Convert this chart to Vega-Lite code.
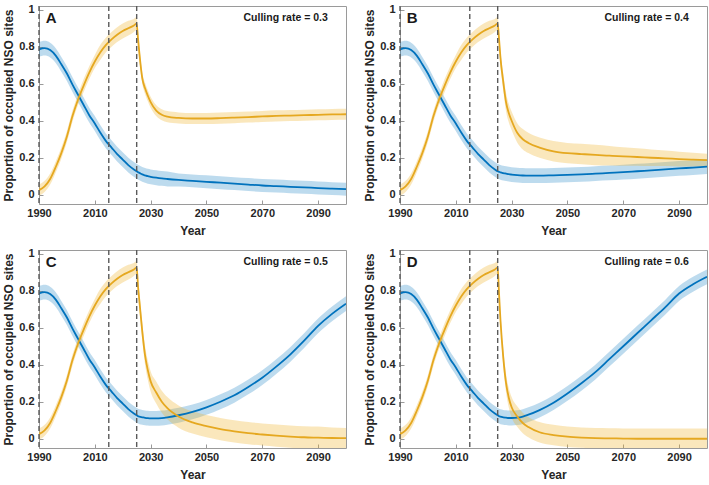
{
  "$schema": "https://vega.github.io/schema/vega-lite/v6.json",
  "background": "white",
  "padding": {"left": 2, "top": 3, "right": 2, "bottom": 0},
  "datasets": {
    "rows": [
      {"p":"A","x":1990,"b":0.785,"bl":0.745,"bh":0.825,"o":0.025,"ol":-0.005,"oh":0.055},
      {"p":"A","x":1992,"b":0.792,"bl":0.752,"bh":0.832,"o":0.045,"ol":0.015,"oh":0.075},
      {"p":"A","x":1994,"b":0.782,"bl":0.742,"bh":0.822,"o":0.085,"ol":0.055,"oh":0.115},
      {"p":"A","x":1996,"b":0.752,"bl":0.712,"bh":0.792,"o":0.15,"ol":0.12,"oh":0.18},
      {"p":"A","x":1998,"b":0.705,"bl":0.665,"bh":0.745,"o":0.225,"ol":0.195,"oh":0.255},
      {"p":"A","x":2000,"b":0.655,"bl":0.615,"bh":0.695,"o":0.315,"ol":0.285,"oh":0.345},
      {"p":"A","x":2002,"b":0.595,"bl":0.555,"bh":0.635,"o":0.425,"ol":0.395,"oh":0.455},
      {"p":"A","x":2004,"b":0.54,"bl":0.5,"bh":0.58,"o":0.515,"ol":0.485,"oh":0.545},
      {"p":"A","x":2006,"b":0.485,"bl":0.445,"bh":0.525,"o":0.59,"ol":0.555,"oh":0.625},
      {"p":"A","x":2008,"b":0.43,"bl":0.39,"bh":0.47,"o":0.66,"ol":0.625,"oh":0.695},
      {"p":"A","x":2010,"b":0.385,"bl":0.345,"bh":0.425,"o":0.72,"ol":0.685,"oh":0.755},
      {"p":"A","x":2012,"b":0.335,"bl":0.295,"bh":0.375,"o":0.77,"ol":0.73,"oh":0.81},
      {"p":"A","x":2014,"b":0.29,"bl":0.25,"bh":0.33,"o":0.81,"ol":0.77,"oh":0.85},
      {"p":"A","x":2016,"b":0.255,"bl":0.215,"bh":0.295,"o":0.84,"ol":0.8,"oh":0.88},
      {"p":"A","x":2018,"b":0.22,"bl":0.18,"bh":0.26,"o":0.865,"ol":0.825,"oh":0.905},
      {"p":"A","x":2020,"b":0.19,"bl":0.15,"bh":0.23,"o":0.885,"ol":0.845,"oh":0.925},
      {"p":"A","x":2022,"b":0.16,"bl":0.12,"bh":0.2,"o":0.9,"ol":0.86,"oh":0.94},
      {"p":"A","x":2024,"b":0.137,"bl":0.097,"bh":0.177,"o":0.915,"ol":0.88,"oh":0.95},
      {"p":"A","x":2025,"b":0.127,"bl":0.087,"bh":0.167,"o":0.925,"ol":0.89,"oh":0.96},
      {"p":"A","x":2025.5,"b":0.122,"bl":0.082,"bh":0.162,"o":0.84,"ol":0.805,"oh":0.875},
      {"p":"A","x":2026,"b":0.118,"bl":0.078,"bh":0.158,"o":0.76,"ol":0.725,"oh":0.795},
      {"p":"A","x":2027,"b":0.11,"bl":0.07,"bh":0.15,"o":0.63,"ol":0.6,"oh":0.66},
      {"p":"A","x":2028,"b":0.105,"bl":0.065,"bh":0.145,"o":0.575,"ol":0.545,"oh":0.605},
      {"p":"A","x":2029,"b":0.1,"bl":0.06,"bh":0.14,"o":0.535,"ol":0.505,"oh":0.565},
      {"p":"A","x":2030,"b":0.097,"bl":0.057,"bh":0.137,"o":0.5,"ol":0.47,"oh":0.53},
      {"p":"A","x":2032,"b":0.092,"bl":0.052,"bh":0.132,"o":0.455,"ol":0.425,"oh":0.485},
      {"p":"A","x":2034,"b":0.088,"bl":0.048,"bh":0.128,"o":0.432,"ol":0.402,"oh":0.462},
      {"p":"A","x":2036,"b":0.085,"bl":0.045,"bh":0.125,"o":0.422,"ol":0.392,"oh":0.452},
      {"p":"A","x":2040,"b":0.08,"bl":0.045,"bh":0.115,"o":0.415,"ol":0.385,"oh":0.445},
      {"p":"A","x":2045,"b":0.075,"bl":0.04,"bh":0.11,"o":0.412,"ol":0.382,"oh":0.442},
      {"p":"A","x":2050,"b":0.07,"bl":0.035,"bh":0.105,"o":0.412,"ol":0.382,"oh":0.442},
      {"p":"A","x":2055,"b":0.065,"bl":0.03,"bh":0.1,"o":0.414,"ol":0.384,"oh":0.444},
      {"p":"A","x":2060,"b":0.06,"bl":0.025,"bh":0.095,"o":0.417,"ol":0.387,"oh":0.447},
      {"p":"A","x":2065,"b":0.055,"bl":0.02,"bh":0.09,"o":0.42,"ol":0.39,"oh":0.45},
      {"p":"A","x":2070,"b":0.05,"bl":0.015,"bh":0.085,"o":0.423,"ol":0.393,"oh":0.453},
      {"p":"A","x":2075,"b":0.047,"bl":0.012,"bh":0.082,"o":0.426,"ol":0.396,"oh":0.456},
      {"p":"A","x":2080,"b":0.043,"bl":0.008,"bh":0.078,"o":0.428,"ol":0.398,"oh":0.458},
      {"p":"A","x":2085,"b":0.04,"bl":0.005,"bh":0.075,"o":0.43,"ol":0.4,"oh":0.46},
      {"p":"A","x":2090,"b":0.036,"bl":0.001,"bh":0.071,"o":0.432,"ol":0.402,"oh":0.462},
      {"p":"A","x":2095,"b":0.033,"bl":-0.002,"bh":0.068,"o":0.434,"ol":0.404,"oh":0.464},
      {"p":"A","x":2100,"b":0.03,"bl":-0.005,"bh":0.065,"o":0.435,"ol":0.405,"oh":0.465},

      {"p":"B","x":1990,"b":0.785,"bl":0.745,"bh":0.825,"o":0.025,"ol":-0.005,"oh":0.055},
      {"p":"B","x":1992,"b":0.792,"bl":0.752,"bh":0.832,"o":0.045,"ol":0.015,"oh":0.075},
      {"p":"B","x":1994,"b":0.782,"bl":0.742,"bh":0.822,"o":0.085,"ol":0.055,"oh":0.115},
      {"p":"B","x":1996,"b":0.752,"bl":0.712,"bh":0.792,"o":0.15,"ol":0.12,"oh":0.18},
      {"p":"B","x":1998,"b":0.705,"bl":0.665,"bh":0.745,"o":0.225,"ol":0.195,"oh":0.255},
      {"p":"B","x":2000,"b":0.655,"bl":0.615,"bh":0.695,"o":0.315,"ol":0.285,"oh":0.345},
      {"p":"B","x":2002,"b":0.595,"bl":0.555,"bh":0.635,"o":0.425,"ol":0.395,"oh":0.455},
      {"p":"B","x":2004,"b":0.54,"bl":0.5,"bh":0.58,"o":0.515,"ol":0.485,"oh":0.545},
      {"p":"B","x":2006,"b":0.485,"bl":0.445,"bh":0.525,"o":0.59,"ol":0.555,"oh":0.625},
      {"p":"B","x":2008,"b":0.43,"bl":0.39,"bh":0.47,"o":0.66,"ol":0.625,"oh":0.695},
      {"p":"B","x":2010,"b":0.385,"bl":0.345,"bh":0.425,"o":0.72,"ol":0.685,"oh":0.755},
      {"p":"B","x":2012,"b":0.335,"bl":0.295,"bh":0.375,"o":0.77,"ol":0.73,"oh":0.81},
      {"p":"B","x":2014,"b":0.29,"bl":0.25,"bh":0.33,"o":0.81,"ol":0.77,"oh":0.85},
      {"p":"B","x":2016,"b":0.255,"bl":0.215,"bh":0.295,"o":0.84,"ol":0.8,"oh":0.88},
      {"p":"B","x":2018,"b":0.22,"bl":0.18,"bh":0.26,"o":0.865,"ol":0.825,"oh":0.905},
      {"p":"B","x":2020,"b":0.19,"bl":0.15,"bh":0.23,"o":0.885,"ol":0.845,"oh":0.925},
      {"p":"B","x":2022,"b":0.16,"bl":0.12,"bh":0.2,"o":0.9,"ol":0.86,"oh":0.94},
      {"p":"B","x":2024,"b":0.137,"bl":0.097,"bh":0.177,"o":0.915,"ol":0.88,"oh":0.95},
      {"p":"B","x":2025,"b":0.127,"bl":0.087,"bh":0.167,"o":0.925,"ol":0.89,"oh":0.96},
      {"p":"B","x":2025.5,"b":0.124,"bl":0.084,"bh":0.164,"o":0.84,"ol":0.805,"oh":0.875},
      {"p":"B","x":2026,"b":0.121,"bl":0.081,"bh":0.161,"o":0.74,"ol":0.7,"oh":0.78},
      {"p":"B","x":2027,"b":0.117,"bl":0.077,"bh":0.157,"o":0.61,"ol":0.565,"oh":0.655},
      {"p":"B","x":2028,"b":0.114,"bl":0.074,"bh":0.154,"o":0.5,"ol":0.45,"oh":0.55},
      {"p":"B","x":2029,"b":0.111,"bl":0.071,"bh":0.151,"o":0.44,"ol":0.39,"oh":0.49},
      {"p":"B","x":2030,"b":0.109,"bl":0.069,"bh":0.149,"o":0.4,"ol":0.35,"oh":0.45},
      {"p":"B","x":2032,"b":0.106,"bl":0.066,"bh":0.146,"o":0.335,"ol":0.283,"oh":0.387},
      {"p":"B","x":2034,"b":0.104,"bl":0.064,"bh":0.144,"o":0.3,"ol":0.245,"oh":0.355},
      {"p":"B","x":2036,"b":0.103,"bl":0.063,"bh":0.143,"o":0.28,"ol":0.225,"oh":0.335},
      {"p":"B","x":2040,"b":0.103,"bl":0.063,"bh":0.143,"o":0.255,"ol":0.2,"oh":0.31},
      {"p":"B","x":2045,"b":0.105,"bl":0.065,"bh":0.145,"o":0.235,"ol":0.18,"oh":0.29},
      {"p":"B","x":2050,"b":0.107,"bl":0.067,"bh":0.147,"o":0.225,"ol":0.17,"oh":0.28},
      {"p":"B","x":2055,"b":0.11,"bl":0.07,"bh":0.15,"o":0.22,"ol":0.165,"oh":0.275},
      {"p":"B","x":2060,"b":0.114,"bl":0.074,"bh":0.154,"o":0.215,"ol":0.16,"oh":0.27},
      {"p":"B","x":2065,"b":0.118,"bl":0.078,"bh":0.158,"o":0.211,"ol":0.158,"oh":0.264},
      {"p":"B","x":2070,"b":0.122,"bl":0.082,"bh":0.162,"o":0.207,"ol":0.157,"oh":0.257},
      {"p":"B","x":2075,"b":0.127,"bl":0.087,"bh":0.167,"o":0.204,"ol":0.157,"oh":0.251},
      {"p":"B","x":2080,"b":0.132,"bl":0.092,"bh":0.172,"o":0.2,"ol":0.155,"oh":0.245},
      {"p":"B","x":2085,"b":0.137,"bl":0.097,"bh":0.177,"o":0.197,"ol":0.155,"oh":0.239},
      {"p":"B","x":2090,"b":0.142,"bl":0.102,"bh":0.182,"o":0.193,"ol":0.153,"oh":0.233},
      {"p":"B","x":2095,"b":0.147,"bl":0.107,"bh":0.187,"o":0.19,"ol":0.153,"oh":0.227},
      {"p":"B","x":2100,"b":0.152,"bl":0.112,"bh":0.192,"o":0.187,"ol":0.152,"oh":0.222},

      {"p":"C","x":1990,"b":0.785,"bl":0.745,"bh":0.825,"o":0.025,"ol":-0.005,"oh":0.055},
      {"p":"C","x":1992,"b":0.792,"bl":0.752,"bh":0.832,"o":0.045,"ol":0.015,"oh":0.075},
      {"p":"C","x":1994,"b":0.782,"bl":0.742,"bh":0.822,"o":0.085,"ol":0.055,"oh":0.115},
      {"p":"C","x":1996,"b":0.752,"bl":0.712,"bh":0.792,"o":0.15,"ol":0.12,"oh":0.18},
      {"p":"C","x":1998,"b":0.705,"bl":0.665,"bh":0.745,"o":0.225,"ol":0.195,"oh":0.255},
      {"p":"C","x":2000,"b":0.655,"bl":0.615,"bh":0.695,"o":0.315,"ol":0.285,"oh":0.345},
      {"p":"C","x":2002,"b":0.595,"bl":0.555,"bh":0.635,"o":0.425,"ol":0.395,"oh":0.455},
      {"p":"C","x":2004,"b":0.54,"bl":0.5,"bh":0.58,"o":0.515,"ol":0.485,"oh":0.545},
      {"p":"C","x":2006,"b":0.485,"bl":0.445,"bh":0.525,"o":0.59,"ol":0.555,"oh":0.625},
      {"p":"C","x":2008,"b":0.43,"bl":0.39,"bh":0.47,"o":0.66,"ol":0.625,"oh":0.695},
      {"p":"C","x":2010,"b":0.385,"bl":0.345,"bh":0.425,"o":0.72,"ol":0.685,"oh":0.755},
      {"p":"C","x":2012,"b":0.335,"bl":0.295,"bh":0.375,"o":0.77,"ol":0.73,"oh":0.81},
      {"p":"C","x":2014,"b":0.29,"bl":0.25,"bh":0.33,"o":0.81,"ol":0.77,"oh":0.85},
      {"p":"C","x":2016,"b":0.255,"bl":0.215,"bh":0.295,"o":0.84,"ol":0.8,"oh":0.88},
      {"p":"C","x":2018,"b":0.22,"bl":0.18,"bh":0.26,"o":0.865,"ol":0.825,"oh":0.905},
      {"p":"C","x":2020,"b":0.19,"bl":0.15,"bh":0.23,"o":0.885,"ol":0.845,"oh":0.925},
      {"p":"C","x":2022,"b":0.16,"bl":0.12,"bh":0.2,"o":0.9,"ol":0.86,"oh":0.94},
      {"p":"C","x":2024,"b":0.137,"bl":0.097,"bh":0.177,"o":0.915,"ol":0.88,"oh":0.95},
      {"p":"C","x":2025,"b":0.127,"bl":0.087,"bh":0.167,"o":0.925,"ol":0.89,"oh":0.96},
      {"p":"C","x":2025.5,"b":0.122,"bl":0.082,"bh":0.162,"o":0.82,"ol":0.785,"oh":0.855},
      {"p":"C","x":2026,"b":0.119,"bl":0.079,"bh":0.159,"o":0.74,"ol":0.7,"oh":0.78},
      {"p":"C","x":2027,"b":0.116,"bl":0.076,"bh":0.156,"o":0.58,"ol":0.535,"oh":0.625},
      {"p":"C","x":2028,"b":0.113,"bl":0.073,"bh":0.153,"o":0.45,"ol":0.4,"oh":0.5},
      {"p":"C","x":2029,"b":0.111,"bl":0.071,"bh":0.151,"o":0.37,"ol":0.317,"oh":0.423},
      {"p":"C","x":2030,"b":0.11,"bl":0.07,"bh":0.15,"o":0.31,"ol":0.255,"oh":0.365},
      {"p":"C","x":2032,"b":0.11,"bl":0.07,"bh":0.15,"o":0.25,"ol":0.19,"oh":0.31},
      {"p":"C","x":2034,"b":0.112,"bl":0.072,"bh":0.152,"o":0.2,"ol":0.14,"oh":0.26},
      {"p":"C","x":2036,"b":0.116,"bl":0.076,"bh":0.156,"o":0.165,"ol":0.105,"oh":0.225},
      {"p":"C","x":2040,"b":0.127,"bl":0.087,"bh":0.167,"o":0.12,"ol":0.06,"oh":0.18},
      {"p":"C","x":2045,"b":0.145,"bl":0.105,"bh":0.185,"o":0.088,"ol":0.028,"oh":0.148},
      {"p":"C","x":2050,"b":0.17,"bl":0.13,"bh":0.21,"o":0.068,"ol":0.008,"oh":0.128},
      {"p":"C","x":2055,"b":0.2,"bl":0.16,"bh":0.24,"o":0.052,"ol":-0.008,"oh":0.112},
      {"p":"C","x":2060,"b":0.235,"bl":0.195,"bh":0.275,"o":0.04,"ol":-0.02,"oh":0.1},
      {"p":"C","x":2065,"b":0.28,"bl":0.24,"bh":0.32,"o":0.03,"ol":-0.03,"oh":0.09},
      {"p":"C","x":2070,"b":0.33,"bl":0.29,"bh":0.37,"o":0.023,"ol":-0.037,"oh":0.083},
      {"p":"C","x":2075,"b":0.39,"bl":0.35,"bh":0.43,"o":0.017,"ol":-0.043,"oh":0.077},
      {"p":"C","x":2080,"b":0.455,"bl":0.415,"bh":0.495,"o":0.012,"ol":-0.048,"oh":0.072},
      {"p":"C","x":2085,"b":0.53,"bl":0.49,"bh":0.57,"o":0.008,"ol":-0.052,"oh":0.068},
      {"p":"C","x":2090,"b":0.61,"bl":0.57,"bh":0.65,"o":0.006,"ol":-0.054,"oh":0.066},
      {"p":"C","x":2095,"b":0.675,"bl":0.635,"bh":0.715,"o":0.004,"ol":-0.053,"oh":0.061},
      {"p":"C","x":2100,"b":0.73,"bl":0.69,"bh":0.77,"o":0.003,"ol":-0.052,"oh":0.058},

      {"p":"D","x":1990,"b":0.785,"bl":0.745,"bh":0.825,"o":0.025,"ol":-0.005,"oh":0.055},
      {"p":"D","x":1992,"b":0.792,"bl":0.752,"bh":0.832,"o":0.045,"ol":0.015,"oh":0.075},
      {"p":"D","x":1994,"b":0.782,"bl":0.742,"bh":0.822,"o":0.085,"ol":0.055,"oh":0.115},
      {"p":"D","x":1996,"b":0.752,"bl":0.712,"bh":0.792,"o":0.15,"ol":0.12,"oh":0.18},
      {"p":"D","x":1998,"b":0.705,"bl":0.665,"bh":0.745,"o":0.225,"ol":0.195,"oh":0.255},
      {"p":"D","x":2000,"b":0.655,"bl":0.615,"bh":0.695,"o":0.315,"ol":0.285,"oh":0.345},
      {"p":"D","x":2002,"b":0.595,"bl":0.555,"bh":0.635,"o":0.425,"ol":0.395,"oh":0.455},
      {"p":"D","x":2004,"b":0.54,"bl":0.5,"bh":0.58,"o":0.515,"ol":0.485,"oh":0.545},
      {"p":"D","x":2006,"b":0.485,"bl":0.445,"bh":0.525,"o":0.59,"ol":0.555,"oh":0.625},
      {"p":"D","x":2008,"b":0.43,"bl":0.39,"bh":0.47,"o":0.66,"ol":0.625,"oh":0.695},
      {"p":"D","x":2010,"b":0.385,"bl":0.345,"bh":0.425,"o":0.72,"ol":0.685,"oh":0.755},
      {"p":"D","x":2012,"b":0.335,"bl":0.295,"bh":0.375,"o":0.77,"ol":0.73,"oh":0.81},
      {"p":"D","x":2014,"b":0.29,"bl":0.25,"bh":0.33,"o":0.81,"ol":0.77,"oh":0.85},
      {"p":"D","x":2016,"b":0.255,"bl":0.215,"bh":0.295,"o":0.84,"ol":0.8,"oh":0.88},
      {"p":"D","x":2018,"b":0.22,"bl":0.18,"bh":0.26,"o":0.865,"ol":0.825,"oh":0.905},
      {"p":"D","x":2020,"b":0.19,"bl":0.15,"bh":0.23,"o":0.885,"ol":0.845,"oh":0.925},
      {"p":"D","x":2022,"b":0.16,"bl":0.12,"bh":0.2,"o":0.9,"ol":0.86,"oh":0.94},
      {"p":"D","x":2024,"b":0.137,"bl":0.097,"bh":0.177,"o":0.915,"ol":0.88,"oh":0.95},
      {"p":"D","x":2025,"b":0.127,"bl":0.087,"bh":0.167,"o":0.925,"ol":0.89,"oh":0.96},
      {"p":"D","x":2025.5,"b":0.122,"bl":0.082,"bh":0.162,"o":0.78,"ol":0.745,"oh":0.815},
      {"p":"D","x":2026,"b":0.119,"bl":0.079,"bh":0.159,"o":0.64,"ol":0.6,"oh":0.68},
      {"p":"D","x":2027,"b":0.116,"bl":0.076,"bh":0.156,"o":0.44,"ol":0.395,"oh":0.485},
      {"p":"D","x":2028,"b":0.114,"bl":0.074,"bh":0.154,"o":0.3,"ol":0.25,"oh":0.35},
      {"p":"D","x":2029,"b":0.112,"bl":0.072,"bh":0.152,"o":0.22,"ol":0.167,"oh":0.273},
      {"p":"D","x":2030,"b":0.112,"bl":0.072,"bh":0.152,"o":0.17,"ol":0.115,"oh":0.225},
      {"p":"D","x":2032,"b":0.114,"bl":0.074,"bh":0.154,"o":0.12,"ol":0.065,"oh":0.175},
      {"p":"D","x":2034,"b":0.12,"bl":0.08,"bh":0.16,"o":0.085,"ol":0.03,"oh":0.14},
      {"p":"D","x":2036,"b":0.13,"bl":0.09,"bh":0.17,"o":0.063,"ol":0.008,"oh":0.118},
      {"p":"D","x":2040,"b":0.155,"bl":0.115,"bh":0.195,"o":0.035,"ol":-0.02,"oh":0.09},
      {"p":"D","x":2045,"b":0.195,"bl":0.155,"bh":0.235,"o":0.02,"ol":-0.035,"oh":0.075},
      {"p":"D","x":2050,"b":0.245,"bl":0.205,"bh":0.285,"o":0.011,"ol":-0.044,"oh":0.066},
      {"p":"D","x":2055,"b":0.3,"bl":0.26,"bh":0.34,"o":0.006,"ol":-0.049,"oh":0.061},
      {"p":"D","x":2060,"b":0.36,"bl":0.32,"bh":0.4,"o":0.003,"ol":-0.052,"oh":0.058},
      {"p":"D","x":2065,"b":0.43,"bl":0.39,"bh":0.47,"o":0.002,"ol":-0.053,"oh":0.057},
      {"p":"D","x":2070,"b":0.5,"bl":0.46,"bh":0.54,"o":0.001,"ol":-0.054,"oh":0.056},
      {"p":"D","x":2075,"b":0.57,"bl":0.53,"bh":0.61,"o":0,"ol":-0.055,"oh":0.055},
      {"p":"D","x":2080,"b":0.64,"bl":0.6,"bh":0.68,"o":0,"ol":-0.055,"oh":0.055},
      {"p":"D","x":2085,"b":0.71,"bl":0.67,"bh":0.75,"o":0,"ol":-0.055,"oh":0.055},
      {"p":"D","x":2090,"b":0.785,"bl":0.745,"bh":0.825,"o":0,"ol":-0.055,"oh":0.055},
      {"p":"D","x":2095,"b":0.835,"bl":0.795,"bh":0.875,"o":0,"ol":-0.055,"oh":0.055},
      {"p":"D","x":2100,"b":0.875,"bl":0.835,"bh":0.915,"o":0,"ol":-0.055,"oh":0.055},

      {"p":"A","v":1990},{"p":"A","v":2015},{"p":"A","v":2025},
      {"p":"B","v":1990},{"p":"B","v":2015},{"p":"B","v":2025},
      {"p":"C","v":1990},{"p":"C","v":2015},{"p":"C","v":2025},
      {"p":"D","v":1990},{"p":"D","v":2015},{"p":"D","v":2025},

      {"p":"A","letter":"A","cull":"Culling rate = 0.3"},
      {"p":"B","letter":"B","cull":"Culling rate = 0.4"},
      {"p":"C","letter":"C","cull":"Culling rate = 0.5"},
      {"p":"D","letter":"D","cull":"Culling rate = 0.6"}
    ]
  },
  "data": {"name": "rows"},
  "facet": {"field": "p", "type": "nominal", "header": null},
  "columns": 2,
  "spacing": {"row": 10, "column": 16},
  "resolve": {"axis": {"x": "independent", "y": "independent"}},
  "spec": {
    "width": 307,
    "height": 198,
    "layer": [
      {
        "transform": [{"filter": "isValid(datum.b)"}],
        "mark": {"type": "area", "color": "#0072BD", "opacity": 0.26, "interpolate": "monotone", "clip": true},
        "encoding": {
          "x": {"field": "x", "type": "quantitative", "title": "Year",
                "scale": {"domain": [1990, 2100], "nice": false, "zero": false},
                "axis": {"values": [1990, 2010, 2030, 2050, 2070, 2090], "format": "d", "labelFlush": false, "labelOverlap": false, "tickCount": 12}},
          "y": {"field": "bl", "type": "quantitative", "title": "Proportion of occupied NSO sites",
                "scale": {"domain": [-0.05, 1.02], "nice": false, "zero": false},
                "axis": {"values": [0, 0.2, 0.4, 0.6, 0.8, 1], "format": "~g", "labelOverlap": false, "tickCount": 12}},
          "y2": {"field": "bh"}
        }
      },
      {
        "transform": [{"filter": "isValid(datum.o)"}],
        "mark": {"type": "area", "color": "#EDB120", "opacity": 0.3, "interpolate": "monotone", "clip": true},
        "encoding": {
          "x": {"field": "x", "type": "quantitative"},
          "y": {"field": "ol", "type": "quantitative"},
          "y2": {"field": "oh"}
        }
      },
      {
        "transform": [{"filter": "isValid(datum.b)"}],
        "mark": {"type": "line", "color": "#0072BD", "strokeWidth": 1.8, "interpolate": "monotone", "clip": true},
        "encoding": {
          "x": {"field": "x", "type": "quantitative"},
          "y": {"field": "b", "type": "quantitative"}
        }
      },
      {
        "transform": [{"filter": "isValid(datum.o)"}],
        "mark": {"type": "line", "color": "#E5A820", "strokeWidth": 1.8, "interpolate": "monotone", "clip": true},
        "encoding": {
          "x": {"field": "x", "type": "quantitative"},
          "y": {"field": "o", "type": "quantitative"}
        }
      },
      {
        "transform": [{"filter": "isValid(datum.v)"}],
        "mark": {"type": "rule", "color": "#5a5a5a", "strokeWidth": 1.4, "strokeDash": [5, 3]},
        "encoding": {
          "x": {"field": "v", "type": "quantitative"}
        }
      },
      {
        "transform": [{"filter": "isValid(datum.letter)"}],
        "mark": {"type": "text", "align": "left", "baseline": "middle", "font": "Liberation Sans", "fontWeight": "bold", "fontSize": 15, "color": "#1a1a1a"},
        "encoding": {
          "x": {"datum": 1992.4, "type": "quantitative"},
          "y": {"datum": 0.955, "type": "quantitative"},
          "text": {"field": "letter"}
        }
      },
      {
        "transform": [{"filter": "isValid(datum.cull)"}],
        "mark": {"type": "text", "align": "right", "baseline": "middle", "font": "Liberation Sans", "fontWeight": "bold", "fontSize": 10.5, "color": "#1a1a1a"},
        "encoding": {
          "x": {"datum": 2093.5, "type": "quantitative"},
          "y": {"datum": 0.955, "type": "quantitative"},
          "text": {"field": "cull"}
        }
      }
    ]
  },
  "config": {
    "header": {"labels": false, "title": null, "labelFontSize": 0, "labelPadding": 0},
    "view": {"stroke": "#9a9a9a", "strokeWidth": 1},
    "axis": {
      "grid": false,
      "domain": false,
      "labelOverlap": false,
      "tickCount": 12,
      "labelFont": "Liberation Sans",
      "labelFontWeight": "bold",
      "labelFontSize": 11,
      "labelColor": "#262626",
      "titleFont": "Liberation Sans",
      "titleFontWeight": "bold",
      "titleFontSize": 12,
      "titleColor": "#262626",
      "tickColor": "#9a9a9a",
      "tickSize": -4,
      "labelPadding": 9
    },
    "axisX": {"titlePadding": 7, "labelPadding": 7},
    "axisY": {"titlePadding": 3, "tickCount": 12}
  }
}
